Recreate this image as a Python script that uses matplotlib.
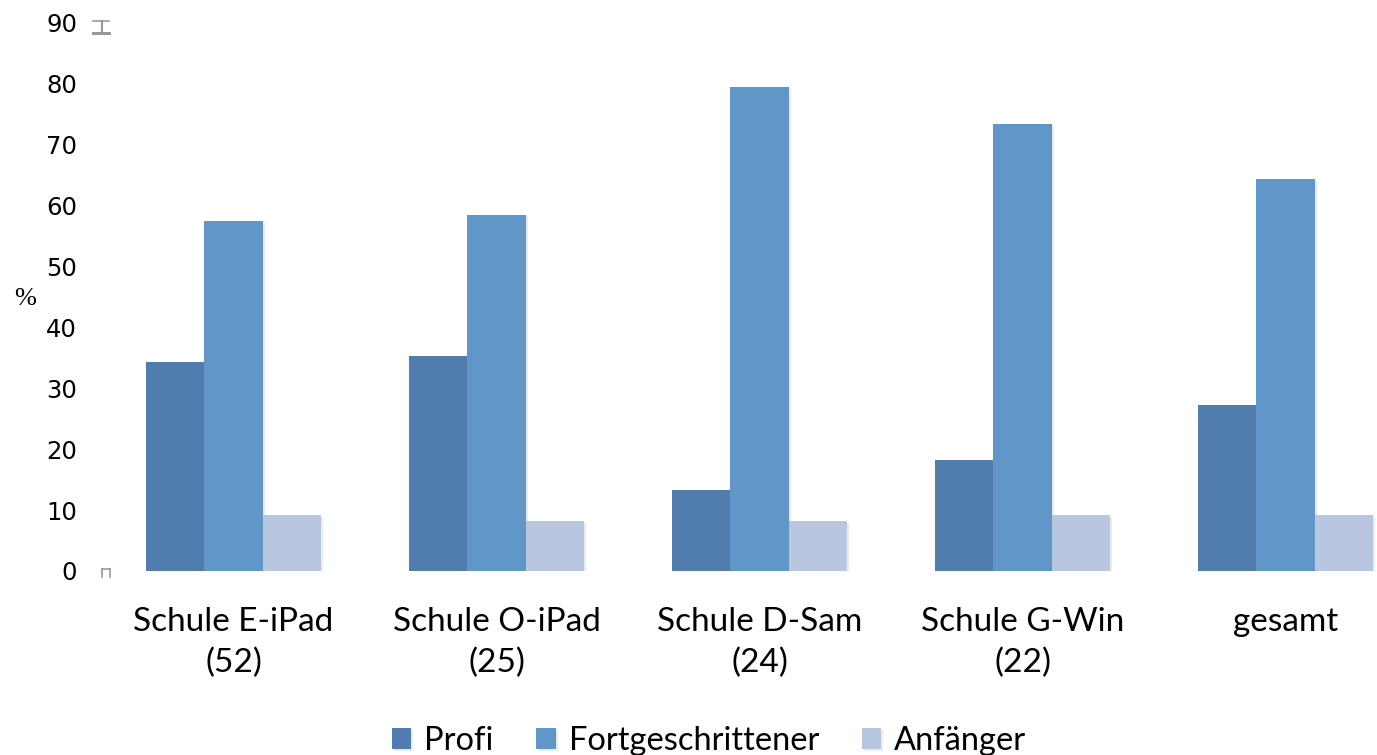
"""
Grouped bar chart: Selbsteinschaetzung nach Schule.
"""
import numpy as np
import matplotlib.pyplot as plt
import matplotlib.patheffects as pe
from matplotlib.lines import Line2D

categories = ["Schule E-iPad\n(52)", "Schule O-iPad\n(25)", "Schule D-Sam\n(24)",
              "Schule G-Win\n(22)", "gesamt"]
series = ["Profi", "Fortgeschrittener", "Anfänger"]
profi = [34.3, 35.3, 13.3, 18.2, 27.3]
fortgeschritten = [57.5, 58.5, 79.5, 73.4, 64.4]
anfaenger = [9.2, 8.2, 8.2, 9.2, 9.2]
colors = ["#507DAE", "#6096C8", "#B8C7DF"]
yticks = list(range(0, 100, 10))

W, H = 1377, 755
fig = plt.figure(figsize=(W / 100, H / 100), dpi=100)
ax = fig.add_axes([102 / W, (H - 571) / H, 1315 / W, 548 / H])

x = np.arange(len(categories))
width = 0.2224
shadow = [pe.SimplePatchShadow(offset=(1.5, -1.5), shadow_rgbFace="#999999", alpha=0.2),
          pe.Normal()]
for i, (vals, name) in enumerate(zip([profi, fortgeschritten, anfaenger], series)):
    bars = ax.bar(x + (i - 1) * width, vals, width, color=colors[i], label=name,
                  linewidth=0)
    for b in bars:
        b.set_path_effects(shadow)

ax.set_xlim(-0.5, len(categories) - 0.5)
ax.set_ylim(0, 90)
ax.set_yticks(yticks)
ax.set_yticklabels([str(t) for t in yticks], fontsize=17.5, family="DejaVu Sans")
ax.set_xticks(x)
ax.set_xticklabels(categories, fontsize=24, family="Lato", linespacing=1.45)
ax.tick_params(axis="y", length=0, pad=18)
ax.tick_params(axis="x", length=0, pad=26)
for s in ax.spines.values():
    s.set_visible(False)

fig.text(25 / W, (H - 299) / H, "%", fontsize=19, family="Liberation Serif",
         ha="center", va="center")

# little axis-end marks seen in the original
def px(xs, ys):
    return [v / W for v in xs], [(H - v) / H for v in ys]

grey = "#999999"
for xs, ys, lw in [([93, 109], [20.5, 20.5], 1.2), ([93, 109], [33, 33], 2.2),
                   ([101.5, 101.5], [20.5, 33], 1.5),
                   ([101.5, 109.5], [569, 569], 1.2), ([101.5, 101.5], [569, 577], 1.2),
                   ([109.5, 109.5], [569, 577], 1.2)]:
    fx, fy = px(xs, ys)
    fig.add_artist(Line2D(fx, fy, color=grey, lw=lw, transform=fig.transFigure))

leg = fig.legend(loc="lower center", bbox_to_anchor=(0.515, -0.04), ncol=3,
                 frameon=False, prop={"family": "Lato", "size": 23.5},
                 handlelength=0.6, handleheight=0.6, handletextpad=0.4,
                 columnspacing=1.3)

fig.savefig("out.png", dpi=100)
